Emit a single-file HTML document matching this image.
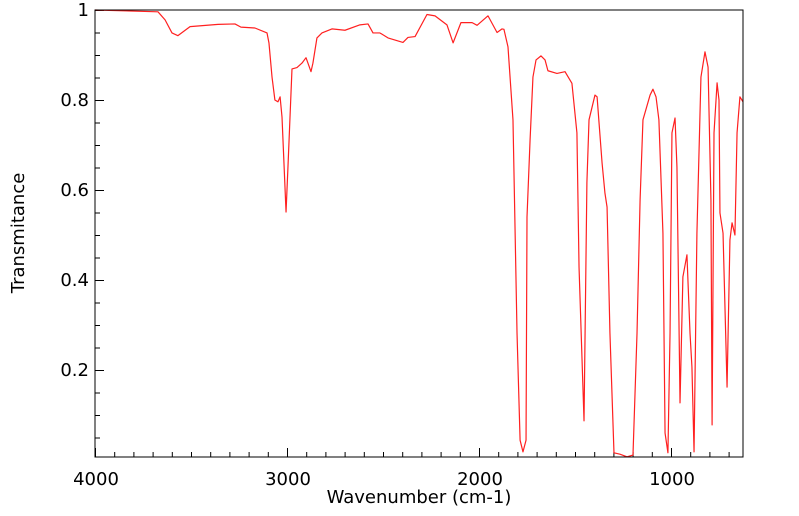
<!DOCTYPE html>
<html><head><meta charset="utf-8"><style>
html,body{margin:0;padding:0;background:#fff;}
svg{display:block;font-family:"DejaVu Sans","Liberation Sans",sans-serif;}
</style></head><body>
<svg id="chart" width="799" height="516" viewBox="0 0 799 516" xmlns="http://www.w3.org/2000/svg">
<g id="axes"></g>
<path id="spectrum" fill="none" stroke="#ff2020" stroke-width="1.2" stroke-linejoin="round"></path>
<rect x="95" y="10" width="648" height="447" fill="none" stroke="#000" stroke-width="1"></rect>
<text x="419" y="503" font-size="18" text-anchor="middle">Wavenumber (cm-1)</text>
<text x="24" y="233" font-size="18" text-anchor="middle" transform="rotate(-90 24 233)">Transmitance</text>
</svg>
<script>
const wavenumbers = [4000,3672,3635,3599,3568,3505,3359,3271,3240,3167,3104,3094,3078,3063,3047,3036,3026,3005,2995,2974,2948,2922,2901,2891,2875,2865,2844,2818,2766,2698,2620,2578,2552,2516,2474,2396,2370,2333,2271,2229,2167,2135,2094,2036,2010,1953,1906,1880,1870,1849,1823,1802,1786,1771,1755,1750,1734,1719,1703,1677,1656,1641,1594,1552,1516,1490,1479,1453,1438,1427,1396,1385,1359,1344,1333,1318,1297,1266,1229,1198,1177,1161,1146,1109,1094,1078,1063,1042,1031,1016,1005,995,979,969,953,938,917,901,891,880,865,844,823,807,792,786,776,760,750,745,729,708,693,682,667,656,641,625];
const transmittance = [1.000,0.996,0.978,0.949,0.943,0.963,0.968,0.969,0.962,0.960,0.949,0.927,0.851,0.800,0.796,0.807,0.762,0.551,0.651,0.869,0.872,0.882,0.894,0.882,0.863,0.882,0.938,0.949,0.958,0.955,0.967,0.969,0.949,0.949,0.938,0.928,0.939,0.941,0.990,0.987,0.967,0.927,0.972,0.972,0.966,0.987,0.950,0.958,0.957,0.918,0.756,0.282,0.044,0.018,0.044,0.540,0.711,0.851,0.889,0.898,0.889,0.865,0.859,0.863,0.837,0.727,0.429,0.087,0.616,0.756,0.811,0.807,0.660,0.593,0.562,0.282,0.016,0.013,0.007,0.011,0.282,0.578,0.756,0.811,0.824,0.807,0.756,0.504,0.060,0.016,0.282,0.727,0.760,0.651,0.127,0.407,0.456,0.282,0.207,0.018,0.504,0.851,0.907,0.873,0.578,0.078,0.727,0.838,0.800,0.549,0.504,0.162,0.489,0.527,0.500,0.727,0.807,0.796];
const xTickLabels = [4000,3000,2000,1000];
const yTickLabels = [0.2,0.4,0.6,0.8,1];

const L=95,R=743,T=10,B=457;
const X0=4000,X1=625;
function xs(v){return L+(X0-v)/(X0-X1)*(R-L);}
function ys(v){return 460-v*450;}
const NS="http://www.w3.org/2000/svg";
const axes=document.getElementById('axes');
function ln(x1,y1,x2,y2,name){
  const l=document.createElementNS(NS,'line');
  l.setAttribute('x1',x1);l.setAttribute('y1',y1);l.setAttribute('x2',x2);l.setAttribute('y2',y2);
  l.setAttribute('stroke','#000');l.setAttribute('stroke-width','1');
  
  
  axes.appendChild(l);
}
function tx(x,y,s,anchor,name){
  const t=document.createElementNS(NS,'text');
  t.setAttribute('x',x);t.setAttribute('y',y);t.setAttribute('font-size','18');t.setAttribute('text-anchor',anchor);
  t.textContent=s;
  
  
  axes.appendChild(t);
}
for(let v=4000; v>=X1; v-=100){
  const x=xs(v)+0.5; const major=(v%1000===0);
  ln(x,B,x,B-(major?9:5),'x-tick');
}
xTickLabels.forEach(v=>tx(xs(v)+1,485,String(v),'middle','x-tick-label'));
for(let i=1;i<=20;i++){
  const v=i*0.05; const y=ys(v)+0.5; const major=(i%4===0);
  ln(L,y,L+(major?9:5),y,'y-tick');
}
yTickLabels.forEach(v=>tx(89,ys(v)+6,String(v),'end','y-tick-label'));
let d='';
for(let i=0;i<wavenumbers.length;i++){
  d+=(i?'L':'M')+xs(wavenumbers[i]).toFixed(2)+' '+ys(transmittance[i]).toFixed(2);
}
document.getElementById('spectrum').setAttribute('d',d);
</script>
</body></html>
